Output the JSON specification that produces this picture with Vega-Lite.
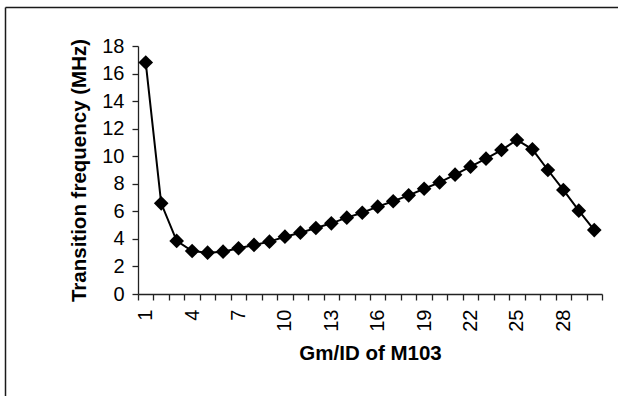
{
  "$schema": "https://vega.github.io/schema/vega-lite/v6.json",
  "autosize": "none",
  "padding": {"left": 5, "top": 7, "right": 0, "bottom": 0},
  "width": 613,
  "height": 389,
  "background": "white",
  "view": {"stroke": null},
  "config": {
    "view": {"stroke": null},
    "font": "Liberation Sans",
    "axis": {
      "labelFont": "Liberation Sans",
      "titleFont": "Liberation Sans",
      "labelColor": "#000",
      "titleColor": "#000",
      "domainColor": "#222",
      "tickColor": "#222",
      "domainWidth": 1.3,
      "tickWidth": 1.3,
      "grid": false
    }
  },
  "data": {
    "values": [
      {"gm_id": 1, "ft": 16.8},
      {"gm_id": 2, "ft": 6.58},
      {"gm_id": 3, "ft": 3.85},
      {"gm_id": 4, "ft": 3.12},
      {"gm_id": 5, "ft": 3.0},
      {"gm_id": 6, "ft": 3.07},
      {"gm_id": 7, "ft": 3.32},
      {"gm_id": 8, "ft": 3.56},
      {"gm_id": 9, "ft": 3.8},
      {"gm_id": 10, "ft": 4.16},
      {"gm_id": 11, "ft": 4.45},
      {"gm_id": 12, "ft": 4.79},
      {"gm_id": 13, "ft": 5.13},
      {"gm_id": 14, "ft": 5.54},
      {"gm_id": 15, "ft": 5.9},
      {"gm_id": 16, "ft": 6.34},
      {"gm_id": 17, "ft": 6.73},
      {"gm_id": 18, "ft": 7.16},
      {"gm_id": 19, "ft": 7.64},
      {"gm_id": 20, "ft": 8.1},
      {"gm_id": 21, "ft": 8.66},
      {"gm_id": 22, "ft": 9.24},
      {"gm_id": 23, "ft": 9.82},
      {"gm_id": 24, "ft": 10.45},
      {"gm_id": 25, "ft": 11.18},
      {"gm_id": 26, "ft": 10.5},
      {"gm_id": 27, "ft": 9.0},
      {"gm_id": 28, "ft": 7.55},
      {"gm_id": 29, "ft": 6.05},
      {"gm_id": 30, "ft": 4.64}
    ]
  },
  "layer": [
    {
      "mark": {"type": "point", "opacity": 0},
      "encoding": {
        "x": {
          "field": "gm_id",
          "type": "quantitative",
          "scale": {"domain": [0.5, 30.5], "nice": false, "zero": false},
          "axis": {"orient": "top", "offset": 0, "labels": false, "ticks": false, "title": null, "domainColor": "#1a1a1a", "domainWidth": 1.5}
        },
        "y": {
          "field": "ft",
          "type": "quantitative",
          "scale": {"domain": [0, 18], "nice": false},
          "axis": {"orient": "left", "offset": 0, "labels": false, "ticks": false, "title": null, "domainColor": "#1a1a1a", "domainWidth": 1.5}
        }
      }
    },
    {
      "mark": {"type": "line", "color": "#000", "strokeWidth": 2},
      "encoding": {
        "x": {
          "field": "gm_id",
          "type": "quantitative",
          "scale": {"domain": [0.5, 30.5], "range": [133, 597], "nice": false, "zero": false},
          "axis": {
            "orient": "bottom",
            "offset": -102,
            "values": [0.5, 1.5, 2.5, 3.5, 4.5, 5.5, 6.5, 7.5, 8.5, 9.5, 10.5, 11.5, 12.5, 13.5, 14.5, 15.5, 16.5, 17.5, 18.5, 19.5, 20.5, 21.5, 22.5, 23.5, 24.5, 25.5, 26.5, 27.5, 28.5, 29.5, 30.5],
            "labels": false,
            "title": null,
            "tickSize": 6
          }
        },
        "y": {
          "field": "ft",
          "type": "quantitative",
          "scale": {"domain": [0, 18], "range": [287, 39], "nice": false},
          "axis": {
            "orient": "left",
            "offset": -133,
            "values": [0, 2, 4, 6, 8, 10, 12, 14, 16, 18],
            "tickSize": 6,
            "labelFontSize": 20,
            "labelPadding": 8,
            "title": "Transition frequency (MHz)",
            "titleFontSize": 20.5,
            "titleFontWeight": "bold",
            "titlePadding": 12
          }
        }
      }
    },
    {
      "mark": {"type": "point", "shape": "diamond", "filled": true, "color": "#000", "opacity": 1, "size": 215},
      "encoding": {
        "x": {
          "field": "gm_id",
          "type": "quantitative",
          "scale": {"domain": [0.5, 30.5], "range": [133, 597], "nice": false, "zero": false},
          "axis": {
            "orient": "bottom",
            "offset": -102,
            "values": [1, 4, 7, 10, 13, 16, 19, 22, 25, 28],
            "ticks": false,
            "tickSize": 0,
            "domain": false,
            "labelAngle": 270,
            "labelFontSize": 20,
            "labelPadding": 15,
            "title": "Gm/ID of M103",
            "titleFontSize": 20.5,
            "titleFontWeight": "bold",
            "titlePadding": 12
          }
        },
        "y": {
          "field": "ft",
          "type": "quantitative",
          "scale": {"domain": [0, 18], "range": [287, 39], "nice": false},
          "axis": null
        }
      }
    }
  ],
  "resolve": {
    "scale": {"x": "independent", "y": "independent"},
    "axis": {"x": "independent", "y": "independent"}
  }
}
